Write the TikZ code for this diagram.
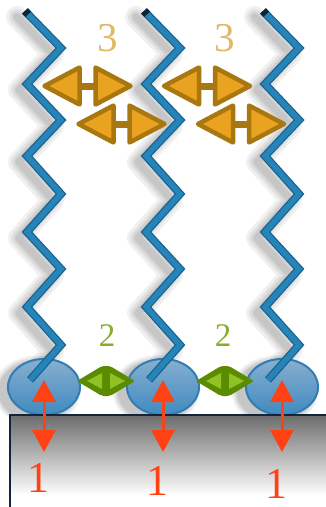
\documentclass[tikz,border=0pt]{standalone}
\usepackage{fontspec}
\setmainfont{Liberation Serif}
\usetikzlibrary{shapes.geometric,arrows.meta}

\definecolor{chainblue}{HTML}{2784B8}
\definecolor{chainedge}{HTML}{17628F}
\definecolor{capnavy}{HTML}{0E2238}
\definecolor{ballrim}{HTML}{2F7DB2}
\definecolor{balltop}{HTML}{88AFCF}
\definecolor{ballbot}{HTML}{3F8AC0}
\definecolor{goldrim}{HTML}{A8770F}
\definecolor{goldfill}{HTML}{E9A320}
\definecolor{labelgold}{HTML}{E3B865}
\definecolor{leafdark}{HTML}{5B8B00}
\definecolor{leaflight}{HTML}{8EC323}
\definecolor{labelgreen}{HTML}{86AD2B}
\definecolor{bondred}{HTML}{FF4114}
\definecolor{slabrim}{HTML}{12253A}
\definecolor{slabtop}{HTML}{6C6C6C}

\tikzset{
  headball/.style={ellipse, minimum width=72pt, minimum height=56pt, inner sep=0pt,
    draw=ballrim, line width=2pt, top color=balltop, bottom color=ballbot},
  haze/.style={draw=black, opacity=0.06, line join=round, line cap=round},
  chainrim/.style={draw=chainedge, line width=8pt, line join=miter},
  chaincore/.style={draw=chainblue, line width=5.5pt, line join=miter},
  bond/.style={draw=bondred, line width=3pt,
    {Triangle[width=23pt,length=22pt]}-{Triangle[width=23pt,length=22pt]}},
  digit/.style={inner sep=0pt},
  pics/swaparrow/.style={code={
    \fill[goldrim] (-9,-3.5) rectangle (9,3.5);
    \draw[goldrim, fill=goldfill, line width=4.5pt, line join=round]
      (-43,0) -- (-8,-18.5) -- (-8,18.5) -- cycle;
    \draw[goldrim, fill=goldfill, line width=4.5pt, line join=round]
      (43,0) -- (8,-18.5) -- (8,18.5) -- cycle;
  }},
  pics/leafbond/.style={code={
    \fill[leafdark, rounded corners=2pt]
      (-29,0) -- (-4,-15) -- (4,-15) -- (29,0) -- (4,15) -- (-4,15) -- cycle;
    \fill[leaflight] (-19,0) -- (-4,-8) -- (-4,8) -- cycle;
    \fill[leaflight] (19,0) -- (4,-8) -- (4,8) -- cycle;
  }}
}

\begin{document}
\begin{tikzpicture}[x=1pt,y=-1pt]
\useasboundingbox (0,0) rectangle (326,507);
\clip (0,0) rectangle (326,507);
\fill[white] (0,0) rectangle (326,507);

% soft shadows behind the heads and chains
\foreach \dx in {0,119,238}{
  \begin{scope}[xshift=\dx pt]
    \foreach \w in {22,16,11,7}{
      \draw[haze, line width=\w pt, shift={(-8,6)}]
        (25,11) -- (61,48) -- (27,84) -- (61,120) -- (27,156) -- (61,194)
        -- (27,232) -- (61,269) -- (27,307) -- (61,345) -- (30,380);
      \fill[black, opacity=0.06] (37,391) ellipse ({36+\w/3} and {28+\w/3});
    }
  \end{scope}
}

% head groups
\node[headball] (h1) at (44,387) {};
\node[headball] (h2) at (163,387) {};
\node[headball] (h3) at (282,387) {};

% substrate
\shade[top color=slabtop, bottom color=white] (10,415) rectangle (340,495);
\fill[white] (10,494) rectangle (340,512);
\draw[slabrim, line width=2.5pt] (10,509) -- (10,415) -- (340,415);

% alkyl chains
\foreach \dx in {0,119,238}{
  \begin{scope}[xshift=\dx pt]
    \draw[chainrim]
      (25,11) -- (61,48) -- (27,84) -- (61,120) -- (27,156) -- (61,194)
      -- (27,232) -- (61,269) -- (27,307) -- (61,345) -- (30,380);
    \draw[chaincore]
      (25,11) -- (61,48) -- (27,84) -- (61,120) -- (27,156) -- (61,194)
      -- (27,232) -- (61,269) -- (27,307) -- (61,345) -- (30,380);
    \draw[capnavy, line width=8pt] (25,11) -- (28.2,14.3);
  \end{scope}
}

% chain-chain interactions (3)
\pic at (87.5,86) {swaparrow};
\pic at (121.5,124) {swaparrow};
\pic at (207,86) {swaparrow};
\pic at (241,124) {swaparrow};
\node[digit, text=labelgold, font=\fontsize{41}{41}\selectfont] (n3a) at (107.5,38) {3};
\node[digit, text=labelgold, font=\fontsize{41}{41}\selectfont] (n3b) at (224.5,38) {3};

% head-head interactions (2)
\pic at (106,381) {leafbond};
\pic at (225,381) {leafbond};
\node[digit, text=labelgreen, font=\fontsize{33}{33}\selectfont] (n2a) at (107,336) {2};
\node[digit, text=labelgreen, font=\fontsize{33}{33}\selectfont] (n2b) at (223,336) {2};

% head-substrate interactions (1)
\coordinate (t1) at (44,380);  \coordinate (b1) at (44,452);
\coordinate (t2) at (163,380); \coordinate (b2) at (163,452);
\coordinate (t3) at (282,380); \coordinate (b3) at (282,452);
\draw[bond] (t1) -- (b1);
\draw[bond] (t2) -- (b2);
\draw[bond] (t3) -- (b3);
\node[digit, text=bondred, font=\fontsize{44}{44}\selectfont] (n1a) at (38.5,478) {1};
\node[digit, text=bondred, font=\fontsize{44}{44}\selectfont] (n1b) at (157,481) {1};
\node[digit, text=bondred, font=\fontsize{44}{44}\selectfont] (n1c) at (276,484) {1};
\end{tikzpicture}
\end{document}
